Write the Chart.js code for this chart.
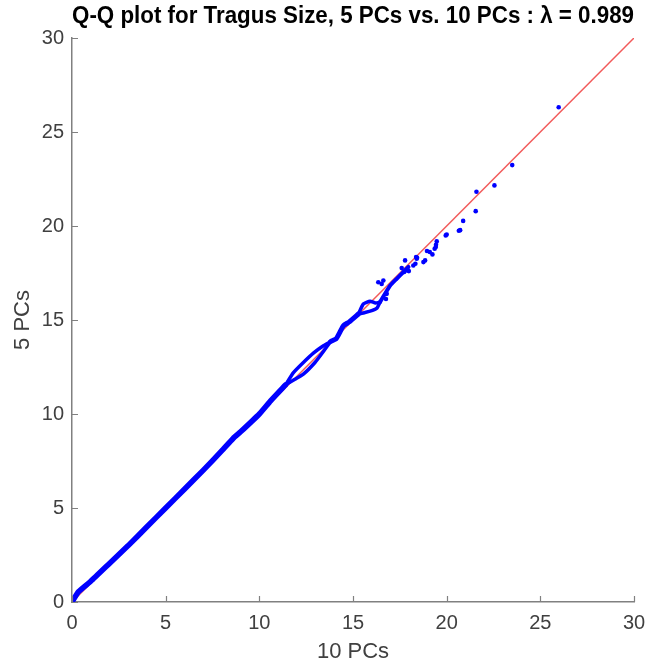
<!DOCTYPE html>
<html>
<head>
<meta charset="utf-8">
<script src="https://cdn.jsdelivr.net/npm/chart.js@4.4.1/dist/chart.umd.min.js"></script>
<style>
  body { margin: 0; background: #fff; }
  #wrap { width: 648px; height: 666px; }
</style>
</head>
<body>
<div id="wrap"><canvas id="qq" width="648" height="666"></canvas></div>
<script>
// axis ticks
var tickValues = [0, 5, 10, 15, 20, 25, 30];

// reference line y = x
var refX = [0, 30];
var refY = [0, 30];

// dense part of the quantiles, read along the blue band
var mainX = [0, 0.35, 1, 2, 3, 4, 5, 6, 7, 8, 8.6, 9, 10, 10.6, 11.4];
var mainY = [0, 0.55, 1.1, 2.05, 3.0, 4.0, 5.0, 6.0, 7.0, 8.05, 8.7, 9.05, 10.0, 10.7, 11.55];

// the band splits in two between 11.4 and 13.8
var loopUpX = [11.4, 11.82, 12.35, 12.9, 13.42, 13.8];
var loopUpY = [11.55, 12.2, 12.74, 13.25, 13.63, 13.85];
var loopLoX = [11.4, 11.9, 12.35, 12.97, 13.4, 13.8];
var loopLoY = [11.55, 11.85, 12.12, 12.74, 13.3, 13.85];

var midX = [13.8, 14.1, 14.3, 14.49, 14.8, 15.29];
var midY = [13.85, 14.0, 14.35, 14.7, 14.9, 15.32];

// second small split near 15.3-16.4
var loop2UpX = [15.29, 15.55, 15.91, 16.2, 16.44];
var loop2UpY = [15.32, 15.85, 16.0, 15.9, 15.95];
var loop2LoX = [15.29, 15.64, 16.0, 16.27, 16.44];
var loop2LoY = [15.32, 15.4, 15.5, 15.62, 15.95];

var endX = [16.44, 16.98, 17.33, 17.69, 17.96];
var endY = [15.95, 16.83, 17.19, 17.55, 17.82];

// sparse upper tail
var tailX = [16.35, 16.53, 16.62, 16.76, 16.8, 17.6, 17.73, 17.78, 17.87, 17.98,
             18.22, 18.33, 18.37, 18.4, 18.42, 18.76, 18.85, 18.95, 19.1, 19.24,
             19.36, 19.42, 19.43, 19.47, 19.95, 20.0, 20.65, 20.72, 20.88,
             21.55, 21.59, 22.55, 23.5, 25.98];
var tailY = [17.01, 16.92, 17.1, 16.12, 16.39, 17.76, 17.55, 18.17, 17.64, 17.6,
             17.9, 17.99, 18.35, 18.26, 18.31, 18.08, 18.17, 18.67, 18.62, 18.49,
             18.79, 18.88, 19.0, 19.18, 19.5, 19.55, 19.75, 19.78, 20.27,
             20.79, 21.82, 22.16, 23.24, 26.32];

function pts(xs, ys) {
    return xs.map(function (x, i) { return { x: x, y: ys[i] }; });
}

var FONT = "'Liberation Sans', Arial, Helvetica, sans-serif";
var AXIS = "#808080";
var TEXT = "#404040";
var BLUE = "#0000ff";

function band(xs, ys, w) {
    return {
        data: pts(xs, ys),
        showLine: true,
        borderColor: BLUE,
        borderWidth: w,
        borderCapStyle: "round",
        borderJoinStyle: "round",
        pointRadius: 0,
        tension: 0.15,
        order: 1
    };
}

// inward tick marks, MATLAB style
var innerTicks = {
    id: "innerTicks",
    afterDraw: function (c) {
        var ctx = c.ctx, xs = c.scales.x, ys = c.scales.y, a = c.chartArea;
        ctx.save();
        ctx.strokeStyle = AXIS;
        ctx.lineWidth = 1.2;
        ctx.beginPath();
        tickValues.forEach(function (v) {
            var px = Math.round(xs.getPixelForValue(v)) + 0.5;
            ctx.moveTo(px, a.bottom);
            ctx.lineTo(px, a.bottom - 6);
            var py = Math.round(ys.getPixelForValue(v)) + 0.5;
            ctx.moveTo(a.left, py);
            ctx.lineTo(a.left + 6, py);
        });
        ctx.stroke();
        ctx.restore();
    }
};

new Chart(document.getElementById("qq"), {
    type: "scatter",
    data: {
        datasets: [
            {
                data: pts(refX, refY),
                showLine: true,
                borderColor: "#f25a5a",
                borderWidth: 1.5,
                pointRadius: 0,
                order: 3
            },
            band(mainX, mainY, 5.5),
            band(loopUpX, loopUpY, 3.5),
            band(loopLoX, loopLoY, 3.5),
            band(midX, midY, 5),
            band(loop2UpX, loop2UpY, 3.5),
            band(loop2LoX, loop2LoY, 3.5),
            band(endX, endY, 4),
            {
                data: pts(tailX, tailY),
                backgroundColor: BLUE,
                borderColor: BLUE,
                borderWidth: 0,
                pointRadius: 2.3,
                order: 0
            }
        ]
    },
    options: {
        responsive: false,
        animation: false,
        layout: { padding: { left: 0, right: 0, top: 0, bottom: 0 } },
        plugins: {
            legend: { display: false },
            tooltip: { enabled: false },
            title: {
                display: true,
                fullSize: false,
                text: "Q-Q plot for Tragus Size, 5 PCs vs. 10 PCs : \u03bb = 0.989",
                color: "#000",
                font: { family: FONT, size: 23, weight: "bold" },
                padding: { top: 3, bottom: 7.4 }
            }
        },
        scales: {
            x: {
                type: "linear",
                min: 0,
                max: 30,
                afterFit: function (s) { s.height = 64; s.paddingRight = 14; },
                afterBuildTicks: function (s) {
                    s.ticks = tickValues.map(function (v) { return { value: v }; });
                },
                grid: { display: false, drawTicks: false },
                border: { display: true, color: AXIS, width: 1.5 },
                ticks: { color: TEXT, padding: 9, font: { family: FONT, size: 20 } },
                title: {
                    display: true,
                    text: "10 PCs",
                    color: TEXT,
                    font: { family: FONT, size: 22 },
                    padding: { top: 0, bottom: 1 }
                }
            },
            y: {
                type: "linear",
                min: 0,
                max: 30,
                afterFit: function (s) { s.width = 72; },
                afterBuildTicks: function (s) {
                    s.ticks = tickValues.map(function (v) { return { value: v }; });
                },
                grid: { display: false, drawTicks: false },
                border: { display: true, color: AXIS, width: 1.5 },
                ticks: { color: TEXT, padding: 8, font: { family: FONT, size: 20 } },
                title: {
                    display: true,
                    text: "5 PCs",
                    color: TEXT,
                    font: { family: FONT, size: 22 },
                    padding: { top: 10, bottom: 0 }
                }
            }
        }
    },
    plugins: [innerTicks]
});
</script>
</body>
</html>
